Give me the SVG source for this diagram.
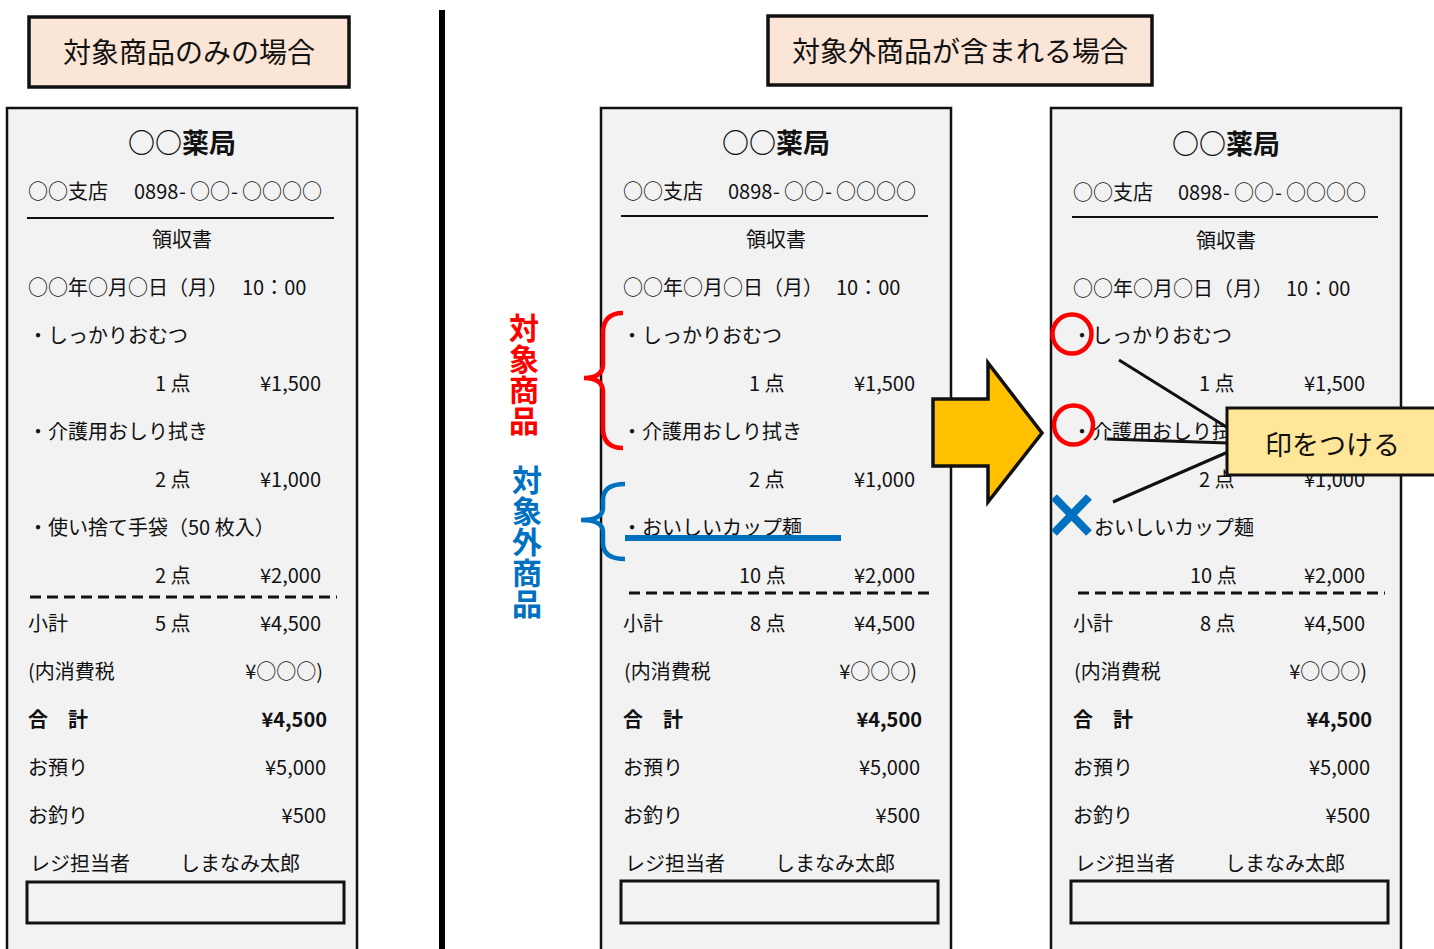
<svg xmlns="http://www.w3.org/2000/svg" width="1434" height="949" viewBox="0 0 1434 949">
<defs>
<style>
text{font-family:"Noto Sans CJK JP","Noto Sans",sans-serif;fill:#111;}
.t{font-size:20px;}
.e{font-size:20px;text-anchor:end;}
.b{font-weight:bold;}
.c{text-anchor:middle;}
.h{font-size:27px;font-weight:bold;text-anchor:middle;}
.rc{fill:#F2F2F2;stroke:#111;stroke-width:2.5;}
.ttl{fill:#FBE5D6;stroke:#111;stroke-width:3.5;}
.dash{stroke:#111;stroke-width:3;stroke-dasharray:11 6;}
.ln{stroke:#111;stroke-width:2;}
.sig{fill:none;stroke:#111;stroke-width:3;}
.vt{font-size:30px;font-weight:bold;writing-mode:vertical-rl;letter-spacing:1px;}
</style>
</defs>
<rect width="1434" height="949" fill="#fff"/>

<g id="title-left">
<rect class="ttl" x="29" y="17" width="320" height="70"/>
<text x="189" y="63" font-size="28" text-anchor="middle">対象商品のみの場合</text>
</g>
<g id="title-right">
<rect class="ttl" x="768" y="16" width="384" height="69"/>
<text x="960" y="62" font-size="28" text-anchor="middle">対象外商品が含まれる場合</text>
</g>

<g id="divider"><rect x="439" y="10" width="6" height="940" fill="#000"/></g>

<g id="receipt-left">
<rect class="rc" x="7" y="108" width="350" height="860"/>
<text class="h" x="182" y="153">○○薬局</text>
<text class="t" x="28" y="199">○○支店<tspan x="134">0898</tspan><tspan x="179">-</tspan><tspan x="190">○○</tspan><tspan x="231">-</tspan><tspan x="242">○○○○</tspan></text>
<line class="ln" x1="27" y1="218" x2="334" y2="218"/>
<text class="t c" x="182" y="247">領収書</text>
<text class="t" x="28" y="295">○○年○月○日（月）</text>
<text class="t" x="242" y="295">10：00</text>
<text class="t" x="28" y="343">・しっかりおむつ</text>
<text class="t" x="155" y="391">1 点</text><text class="e" x="321" y="391">¥1,500</text>
<text class="t" x="28" y="439">・介護用おしり拭き</text>
<text class="t" x="155" y="487">2 点</text><text class="e" x="321" y="487">¥1,000</text>
<text class="t" x="28" y="535">・使い捨て手袋（50 枚入）</text>
<text class="t" x="155" y="583">2 点</text><text class="e" x="321" y="583">¥2,000</text>
<line class="dash" x1="30" y1="597" x2="337" y2="597"/>
<text class="t" x="28" y="631">小計</text><text class="t" x="155" y="631">5 点</text><text class="e" x="321" y="631">¥4,500</text>
<text class="t" x="28" y="679">(内消費税</text><text class="e" x="323" y="679">¥○○○)</text>
<text class="t b" x="28" y="727">合　計</text><text class="e b" x="327" y="727">¥4,500</text>
<text class="t" x="28" y="775">お預り</text><text class="e" x="326" y="775">¥5,000</text>
<text class="t" x="28" y="823">お釣り</text><text class="e" x="326" y="823">¥500</text>
<text class="t" x="30" y="871">レジ担当者</text><text class="t" x="180" y="871">しまなみ太郎</text>
<rect class="sig" x="27" y="882" width="317" height="41"/>
</g>

<g id="receipt-middle" transform="translate(594,0)">
<rect class="rc" x="7" y="108" width="350" height="860"/>
<text class="h" x="182" y="153">○○薬局</text>
<text class="t" x="29" y="199">○○支店<tspan x="134">0898</tspan><tspan x="179">-</tspan><tspan x="190">○○</tspan><tspan x="231">-</tspan><tspan x="242">○○○○</tspan></text>
<line class="ln" x1="27" y1="216" x2="334" y2="216"/>
<text class="t c" x="182" y="247">領収書</text>
<text class="t" x="29" y="295">○○年○月○日（月）</text>
<text class="t" x="242" y="295">10：00</text>
<text class="t" x="28" y="343">・しっかりおむつ</text>
<text class="t" x="155" y="391">1 点</text><text class="e" x="321" y="391">¥1,500</text>
<text class="t" x="28" y="439">・介護用おしり拭き</text>
<text class="t" x="155" y="487">2 点</text><text class="e" x="321" y="487">¥1,000</text>
<text class="t" x="28" y="535">・おいしいカップ麺</text>
<text class="t" x="145" y="583">10 点</text><text class="e" x="321" y="583">¥2,000</text>
<line class="dash" x1="35" y1="593" x2="341" y2="593"/>
<text class="t" x="29" y="631">小計</text><text class="t" x="156" y="631">8 点</text><text class="e" x="321" y="631">¥4,500</text>
<text class="t" x="30" y="679">(内消費税</text><text class="e" x="323" y="679">¥○○○)</text>
<text class="t b" x="29" y="727">合　計</text><text class="e b" x="328" y="727">¥4,500</text>
<text class="t" x="29" y="775">お預り</text><text class="e" x="326" y="775">¥5,000</text>
<text class="t" x="29" y="823">お釣り</text><text class="e" x="326" y="823">¥500</text>
<text class="t" x="31" y="871">レジ担当者</text><text class="t" x="181" y="871">しまなみ太郎</text>
<rect class="sig" x="27" y="881" width="317" height="42"/>
</g>

<g id="receipt-right" transform="translate(1044,0)">
<rect class="rc" x="7" y="108" width="350" height="860"/>
<text class="h" x="182" y="154">○○薬局</text>
<text class="t" x="29" y="200">○○支店<tspan x="134">0898</tspan><tspan x="179">-</tspan><tspan x="190">○○</tspan><tspan x="231">-</tspan><tspan x="242">○○○○</tspan></text>
<line class="ln" x1="28" y1="217" x2="334" y2="217"/>
<text class="t c" x="182" y="248">領収書</text>
<text class="t" x="29" y="296">○○年○月○日（月）</text>
<text class="t" x="242" y="296">10：00</text>
<text class="t" x="28" y="343">・しっかりおむつ</text>
<text class="t" x="155" y="391">1 点</text><text class="e" x="321" y="391">¥1,500</text>
<text class="t" x="28" y="439">・介護用おしり拭き</text>
<text class="t" x="155" y="487">2 点</text><text class="e" x="321" y="487">¥1,000</text>
<text class="t" x="50" y="535">おいしいカップ麺</text>
<text class="t" x="146" y="583">10 点</text><text class="e" x="321" y="583">¥2,000</text>
<line class="dash" x1="34" y1="593" x2="341" y2="593"/>
<text class="t" x="29" y="631">小計</text><text class="t" x="156" y="631">8 点</text><text class="e" x="321" y="631">¥4,500</text>
<text class="t" x="30" y="679">(内消費税</text><text class="e" x="323" y="679">¥○○○)</text>
<text class="t b" x="29" y="727">合　計</text><text class="e b" x="328" y="727">¥4,500</text>
<text class="t" x="29" y="775">お預り</text><text class="e" x="326" y="775">¥5,000</text>
<text class="t" x="29" y="823">お釣り</text><text class="e" x="326" y="823">¥500</text>
<text class="t" x="31" y="871">レジ担当者</text><text class="t" x="181" y="871">しまなみ太郎</text>
<rect class="sig" x="27" y="881" width="317" height="42"/>
</g>

<g id="brace-target">
<path d="M623,313 Q603,313 603,333 L603,364 Q603,378 584,378 Q603,378 603,392 L603,428 Q603,448 623,448" fill="none" stroke="#FF0000" stroke-width="4.5"/>
<text class="vt" x="524" y="313" fill="#FF0000" style="fill:#FF0000">対象商品</text>
</g>
<g id="brace-nontarget">
<path d="M625,484 Q603,484 603,500 L603,508 Q603,520 581,520 Q603,520 603,532 L603,543 Q603,559 625,559" fill="none" stroke="#0070C0" stroke-width="4.5"/>
<text class="vt" x="527" y="465" style="fill:#0070C0">対象外商品</text>
</g>
<g id="strike"><line x1="625" y1="538" x2="841" y2="538" stroke="#0070C0" stroke-width="6"/></g>

<g id="big-arrow">
<polygon points="933,399 988,399 988,363 1042,433 988,502 988,466 933,466" fill="#FFC000" stroke="#111" stroke-width="3.5" stroke-linejoin="miter"/>
</g>

<g id="marks">
<circle cx="1072" cy="334" r="19.5" fill="none" stroke="#FF0000" stroke-width="4.5"/>
<circle cx="1073.5" cy="425" r="19.5" fill="none" stroke="#FF0000" stroke-width="4.5"/>
<line x1="1054" y1="497" x2="1089" y2="533" stroke="#0070C0" stroke-width="8"/>
<line x1="1089" y1="497" x2="1054" y2="533" stroke="#0070C0" stroke-width="8"/>
</g>

<g id="connectors" stroke="#111" stroke-width="3" fill="none">
<line x1="1119" y1="360" x2="1228" y2="428"/>
<line x1="1107" y1="439" x2="1228" y2="443"/>
<line x1="1113" y1="502" x2="1228" y2="452"/>
</g>

<g id="callout">
<rect x="1227" y="408" width="215" height="67" fill="#FFE699" stroke="#111" stroke-width="3"/>
<text x="1265" y="455" font-size="27">印をつける</text>
</g>
</svg>
